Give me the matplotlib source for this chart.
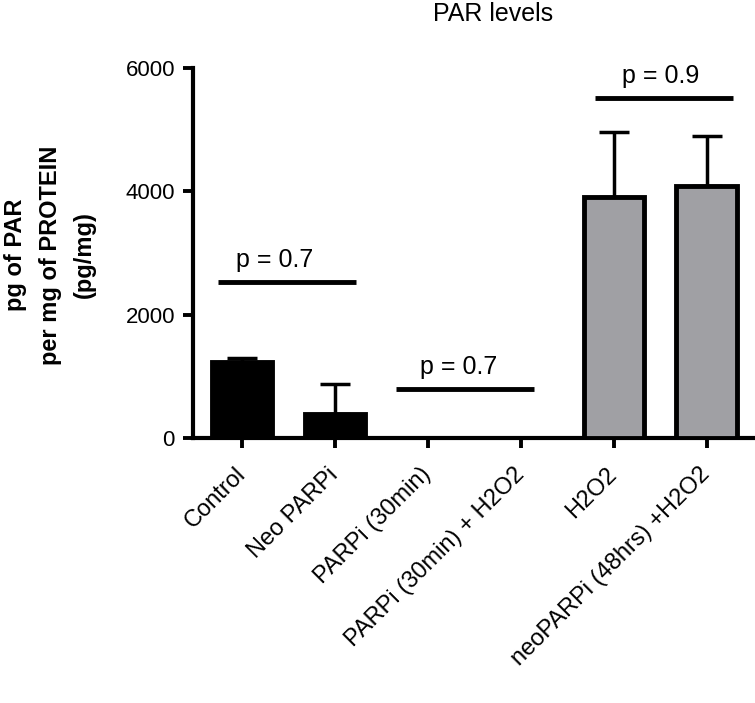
import matplotlib.pyplot as plt
import numpy as np

plt.rcParams['font.family'] = ['Liberation Sans', 'DejaVu Sans']

groups = ["Control", "Neo PARPi", "PARPi (30min)", "PARPi (30min) + H2O2",
          "H2O2", "neoPARPi (48hrs) +H2O2"]
means = [1230, 390, 0, 0, 3910, 4090]
sem = [60, 490, 0, 0, 1050, 800]
fills = ["black", "black", "black", "black", "#a0a0a4", "#a0a0a4"]

# significance bars: left end, right end, height, label
sig_left = [-0.26, 1.66, 3.80]
sig_right = [1.22, 3.14, 5.29]
sig_y = [2530, 800, 5520]
sig_text_x = [0.35, 2.33, 4.51]
sig_text_y = [2780, 1030, 5760]
sig_labels = ["p = 0.7", "p = 0.7", "p = 0.9"]

fig = plt.figure(figsize=(7.55, 7.03), dpi=100)
ax = fig.add_axes([193 / 755, 1 - 438 / 703, (753 - 193) / 755, (438 - 68) / 703])

x = np.arange(len(groups))
ax.bar(x, means, width=0.65, color=fills, edgecolor="black", linewidth=3.5, zorder=3)
ax.errorbar(x, means, yerr=[np.zeros(len(sem)), sem], fmt="none", ecolor="black",
            elinewidth=2.5, capsize=11, capthick=2.5, zorder=2)

for l, r, y, tx, ty, t in zip(sig_left, sig_right, sig_y, sig_text_x, sig_text_y, sig_labels):
    ax.plot([l, r], [y, y], color="black", linewidth=3.5, solid_capstyle="butt")
    ax.text(tx, ty, t, ha="center", va="baseline", fontsize=18)

ax.set_xlim(-0.53, 5.5)
ax.set_ylim(0, 6000)
ax.set_yticks([0, 2000, 4000, 6000])
ax.set_xticks(x)
ax.set_xticklabels(groups, rotation=45, ha="right", va="center", rotation_mode="anchor",
                   fontsize=17)
ax.tick_params(axis="y", labelsize=16, width=2.8, length=7, pad=6)
ax.tick_params(axis="x", width=2.8, length=7, pad=17)

for side in ["top", "right"]:
    ax.spines[side].set_visible(False)
for side in ["left", "bottom"]:
    ax.spines[side].set_linewidth(3)

fig.text(50 / 755, 1 - 255 / 703, "pg of PAR\nper mg of PROTEIN\n(pg/mg)", rotation=90,
         ha="center", va="center", multialignment="center", fontsize=17,
         fontweight="bold", linespacing=1.65)

fig.text(493 / 755, 1 - 2 / 703, "PAR levels", ha="center", va="top", fontsize=18)

fig.savefig("out.png", dpi=100)
